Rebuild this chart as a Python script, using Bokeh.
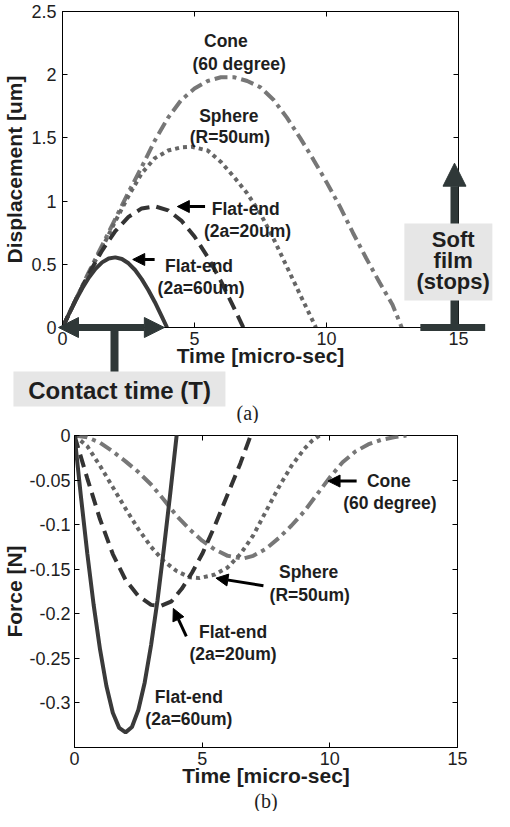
from bokeh.plotting import figure
from bokeh.models import (Label, Arrow, NormalHead, BoxAnnotation, LinearAxis,
                          Range1d, FixedTicker, Title, GridBox)
from bokeh.embed import file_html
from bokeh.resources import INLINE

# ---------------- data: (a) displacement [um] vs time [micro-sec] ----------------
t_flat60 = [0, 0.25, 0.5, 0.75, 1.0, 1.25, 1.5, 1.75, 2.0, 2.25, 2.5, 2.75, 3.0, 3.25, 3.5, 3.75, 3.96]
d_flat60 = [0, 0.109, 0.215, 0.311, 0.396, 0.464, 0.515, 0.546, 0.555, 0.542, 0.508, 0.455, 0.383, 0.297, 0.200, 0.092, 0]

t_flat20 = [0, 0.5, 1.0, 1.5, 2.0, 2.5, 3.0, 3.5, 4.0, 4.5, 5.0, 5.5, 6.0, 6.5, 6.85]
d_flat20 = [0, 0.218, 0.425, 0.609, 0.762, 0.875, 0.942, 0.959, 0.927, 0.846, 0.720, 0.558, 0.367, 0.154, 0]

t_sphere = [0, 0.5, 1.0, 1.5, 2.0, 2.5, 3.0, 3.5, 4.0, 4.5, 4.9, 5.5, 6.0, 6.5, 7.0, 7.5, 8.0, 8.5, 9.0, 9.6]
d_sphere = [0, 0.22, 0.43, 0.63, 0.84, 1.04, 1.22, 1.34, 1.40, 1.425, 1.43, 1.40, 1.31, 1.19, 1.06, 0.90, 0.70, 0.48, 0.26, 0]

t_cone = [0, 0.5, 1.0, 1.5, 2.0, 2.5, 3.0, 3.5, 4.0, 4.5, 5.0, 5.5, 6.0, 6.5, 7.0, 7.5, 8.0, 8.5,
          9.0, 9.5, 10.0, 10.5, 11.0, 11.5, 12.0, 12.5, 12.85]
d_cone = [0, 0.22, 0.44, 0.65, 0.86, 1.07, 1.27, 1.48, 1.66, 1.80, 1.89, 1.95, 1.98, 1.98, 1.95, 1.90, 1.80, 1.66,
          1.50, 1.33, 1.15, 0.96, 0.75, 0.55, 0.36, 0.18, 0]

# ---------------- data: (b) force [N] vs time [micro-sec] ----------------
tf_flat60 = [0, 0.25, 0.5, 0.75, 1.0, 1.25, 1.5, 1.75, 2.0, 2.25, 2.5, 2.75, 3.0, 3.25, 3.5, 3.75, 4.0, 4.1]
f_flat60 = [0, -0.068, -0.132, -0.190, -0.240, -0.281, -0.311, -0.328, -0.333, -0.327, -0.308, -0.277,
            -0.235, -0.185, -0.127, -0.065, 0, 0.026]

tf_flat20 = [0, 0.5, 1.0, 1.5, 2.0, 2.5, 3.0, 3.4, 3.8, 4.2, 4.6, 5.0, 5.5, 6.0, 6.5, 6.9, 7.0]
f_flat20 = [0, -0.048, -0.094, -0.133, -0.162, -0.180, -0.190, -0.191, -0.186, -0.172, -0.154, -0.133,
            -0.101, -0.066, -0.031, 0, 0.008]

tf_sphere = [0, 0.5, 1.0, 1.5, 2.0, 2.5, 3.0, 3.5, 4.0, 4.5, 4.9, 5.5, 6.0, 6.5, 7.0, 7.5, 8.0, 8.5, 9.0, 9.3, 9.6]
f_sphere = [0, -0.012, -0.034, -0.058, -0.082, -0.105, -0.125, -0.141, -0.152, -0.159, -0.160, -0.156,
            -0.148, -0.133, -0.112, -0.085, -0.058, -0.034, -0.015, -0.006, 0]

tf_cone = [0, 0.5, 1.0, 1.5, 2.0, 2.5, 3.0, 3.5, 4.0, 4.5, 5.0, 5.5, 6.0, 6.6, 7.0, 7.5, 8.0, 8.5, 9.0,
           9.5, 10.0, 10.5, 11.0, 11.5, 12.0, 12.5, 13.0]
f_cone = [0, -0.002, -0.008, -0.018, -0.029, -0.041, -0.055, -0.072, -0.090, -0.105, -0.118, -0.128,
          -0.135, -0.138, -0.135, -0.127, -0.115, -0.101, -0.085, -0.066, -0.047, -0.030, -0.018,
          -0.010, -0.005, -0.002, 0]

# ---------------- ticks ----------------
x_ticks = [0, 5, 10, 15]
x_tick_labels = ["0", "5", "10", "15"]
ya_ticks = [0, 0.5, 1.0, 1.5, 2.0, 2.5]
ya_tick_labels = ["0", "0.5", "1", "1.5", "2", "2.5"]
yb_ticks = [-0.3, -0.25, -0.2, -0.15, -0.1, -0.05, 0]
yb_tick_labels = ["-0.3", "-0.25", "-0.2", "-0.15", "-0.1", "-0.05", "0"]

XR = (0, 15)
YRA = (0, 2.5)
YRB = (-0.35, 0)

FONT = "Liberation Sans"
TXT = "#1e1e1e"
DARK = "#2f3838"
BOXC = "#e6e6e6"
C_SOLID = "#3a3a3a"
C_DASH = "#333333"
C_DOT = "#666666"
C_DASHDOT = "#777777"
ANN = "17.5px"

# ---------------- layout geometry (pixels) ----------------
W = 494
A_H, A_BL, A_BR, A_BT, A_BB = 423, 58, 36, 11, 96
B_H, B_BL, B_BR, B_BT, B_BB = 388, 66, 37, 12, 64


def style(p, yt, ytl, ylab_standoff, ylab_label_standoff):
    p.xgrid.visible = False
    p.ygrid.visible = False
    p.outline_line_color = "black"
    p.outline_line_alpha = 1
    p.outline_line_width = 1
    p.background_fill_color = "white"
    p.border_fill_color = "white"
    xa, ya = p.xaxis[0], p.yaxis[0]
    xa.ticker = FixedTicker(ticks=x_ticks)
    xa.major_label_overrides = dict(zip(x_ticks, x_tick_labels))
    ya.ticker = FixedTicker(ticks=yt)
    ya.major_label_overrides = dict(zip(yt, ytl))
    for ax in (xa, ya):
        ax.major_tick_in = 5
        ax.major_tick_out = 0
        ax.minor_tick_line_color = None
        ax.major_tick_line_color = "black"
        ax.axis_line_color = "black"
        ax.major_label_text_font = FONT
        ax.major_label_text_font_size = "18px"
        ax.major_label_text_color = TXT
        ax.axis_label_text_font = FONT
        ax.axis_label_text_font_style = "bold"
        ax.axis_label_text_font_size = "21px"
        ax.axis_label_text_color = TXT
    xa.major_label_standoff = 4
    xa.axis_label_standoff = -4
    ya.major_label_standoff = ylab_standoff
    ya.axis_label_standoff = ylab_label_standoff
    # mirrored tick marks (matlab box style)
    for loc, tk in (("right", yt), ("above", x_ticks)):
        ax = LinearAxis(ticker=FixedTicker(ticks=tk), major_label_overrides={v: "" for v in tk},
                        major_tick_in=5, major_tick_out=0, minor_tick_line_color=None,
                        axis_line_color=None, major_label_standoff=0)
        p.add_layout(ax, loc)


def label(p, x, y, text, size=ANN, bold=True, font=FONT):
    p.add_layout(Label(x=x, y=y, text=text, text_align="center", text_baseline="middle",
                       text_font=font, text_font_size=size,
                       text_font_style="bold" if bold else "normal", text_color=TXT))


def small_arrow(p, x0, y0, x1, y1):
    p.add_layout(Arrow(x_start=x0, y_start=y0, x_end=x1, y_end=y1, line_width=3, line_color="black",
                       end=NormalHead(size=12, fill_color="black", line_color="black", line_width=1)))


# ================= (a) =================
pa = figure(width=W, height=A_H, x_range=Range1d(*XR), y_range=Range1d(*YRA),
            output_backend="svg", toolbar_location=None, frame_align=False,
            min_border_left=A_BL, min_border_right=A_BR, min_border_top=A_BT, min_border_bottom=A_BB,
            x_axis_label="Time [micro-sec]", y_axis_label="Displacement [um]")
style(pa, ya_ticks, ya_tick_labels, 6, 2)

pa.line(t_cone, d_cone, line_color=C_DASHDOT, line_width=4, line_dash="13 5 4 5")
pa.line(t_sphere, d_sphere, line_color=C_DOT, line_width=4, line_dash="4 4")
pa.line(t_flat20, d_flat20, line_color=C_DASH, line_width=4, line_dash="13 7")
pa.line(t_flat60, d_flat60, line_color=C_SOLID, line_width=4)

label(pa, 6.19, 2.263, "Cone")
label(pa, 6.69, 2.081, "(60 degree)")
label(pa, 6.30, 1.677, "Sphere")
label(pa, 6.34, 1.511, "(R=50um)")
label(pa, 6.94, 0.941, "Flat-end")
label(pa, 7.01, 0.767, "(2a=20um)")
small_arrow(pa, 5.40, 0.957, 4.35, 0.957)
label(pa, 5.17, 0.483, "Flat-end")
label(pa, 5.25, 0.316, "(2a=60um)")
small_arrow(pa, 3.49, 0.538, 2.66, 0.538)

# transparent overlay canvas on top of (a), sharing its data scale, so that the
# call-outs that stick out of the plot box are not clipped
fw = W - A_BL - A_BR
fh = A_H - A_BT - A_BB
sx = (XR[1] - XR[0]) / fw
sy = (YRA[1] - YRA[0]) / fh
ov = figure(width=W, height=A_H,
            x_range=Range1d(XR[0] - A_BL * sx, XR[1] + A_BR * sx),
            y_range=Range1d(YRA[0] - A_BB * sy, YRA[1] + A_BT * sy),
            output_backend="svg", toolbar_location=None, frame_align=False,
            min_border=0, min_border_left=0, min_border_right=0, min_border_top=0, min_border_bottom=0,
            x_axis_location=None, y_axis_location=None)
ov.grid.visible = False
ov.outline_line_color = None
ov.background_fill_alpha = 0
ov.border_fill_alpha = 0

# contact time call-out
ov.add_layout(Arrow(x_start=2.1, y_start=0, x_end=2.1, y_end=-0.36, line_width=8, line_color=DARK, end=None))
ov.add_layout(Arrow(x_start=0, y_start=0, x_end=3.97, y_end=0, line_width=7, line_color=DARK,
                    start=NormalHead(size=20, fill_color=DARK, line_color=DARK),
                    end=NormalHead(size=20, fill_color=DARK, line_color=DARK)))
ov.add_layout(BoxAnnotation(left=-1.69, right=6.26, bottom=-0.625, top=-0.348,
                            fill_color=BOXC, fill_alpha=1, line_color=None))
label(ov, 2.29, -0.495, "Contact time (T)", size="24px")

# soft film call-out
ov.add_layout(Arrow(x_start=13.57, y_start=0, x_end=16.0, y_end=0, line_width=7, line_color=DARK, end=None))
ov.add_layout(Arrow(x_start=14.85, y_start=0, x_end=14.85, y_end=1.30, line_width=8, line_color=DARK,
                    end=NormalHead(size=23, fill_color=DARK, line_color=DARK)))
ov.add_layout(BoxAnnotation(left=12.97, right=16.27, bottom=0.214, top=0.823,
                            fill_color=BOXC, fill_alpha=1, line_color=None))
label(ov, 14.8, 0.696, "Soft", size="22px")
label(ov, 14.8, 0.530, "film", size="22px")
label(ov, 14.8, 0.364, "(stops)", size="22px")

label(ov, 7.09, -0.675, "(a)", size="20px", bold=False, font="Liberation Serif")

# ================= (b) =================
pb = figure(width=W, height=B_H, x_range=Range1d(*XR), y_range=Range1d(*YRB),
            output_backend="svg", toolbar_location=None, frame_align=False,
            min_border_left=B_BL, min_border_right=B_BR, min_border_top=B_BT, min_border_bottom=B_BB,
            x_axis_label="Time [micro-sec]", y_axis_label="Force [N]")
style(pb, yb_ticks, yb_tick_labels, 4, 0)

pb.line(tf_cone, f_cone, line_color=C_DASHDOT, line_width=4, line_dash="13 5 4 5")
pb.line(tf_sphere, f_sphere, line_color=C_DOT, line_width=4, line_dash="4 4")
pb.line(tf_flat20, f_flat20, line_color=C_DASH, line_width=4, line_dash="13 7")
pb.line(tf_flat60, f_flat60, line_color=C_SOLID, line_width=4)

label(pb, 12.31, -0.0511, "Cone")
label(pb, 12.35, -0.0761, "(60 degree)")
small_arrow(pb, 11.05, -0.0511, 9.93, -0.0511)
label(pb, 9.17, -0.1534, "Sphere")
label(pb, 9.21, -0.1784, "(R=50um)")
small_arrow(pb, 7.40, -0.1685, 5.54, -0.160)
label(pb, 6.21, -0.2205, "Flat-end")
label(pb, 6.21, -0.2455, "(2a=20um)")
small_arrow(pb, 4.38, -0.2254, 3.87, -0.194)
label(pb, 4.48, -0.293, "Flat-end")
label(pb, 4.48, -0.318, "(2a=60um)")

pb.add_layout(Title(text="(b)", align="center", text_font="Liberation Serif", text_font_size="20px",
                    text_font_style="normal", text_color=TXT, standoff=-4, offset=-10), "below")

layout = GridBox(children=[(pa, 0, 0), (ov, 0, 0), (pb, 1, 0)])
open("out.html", "w").write(file_html(layout, INLINE))
